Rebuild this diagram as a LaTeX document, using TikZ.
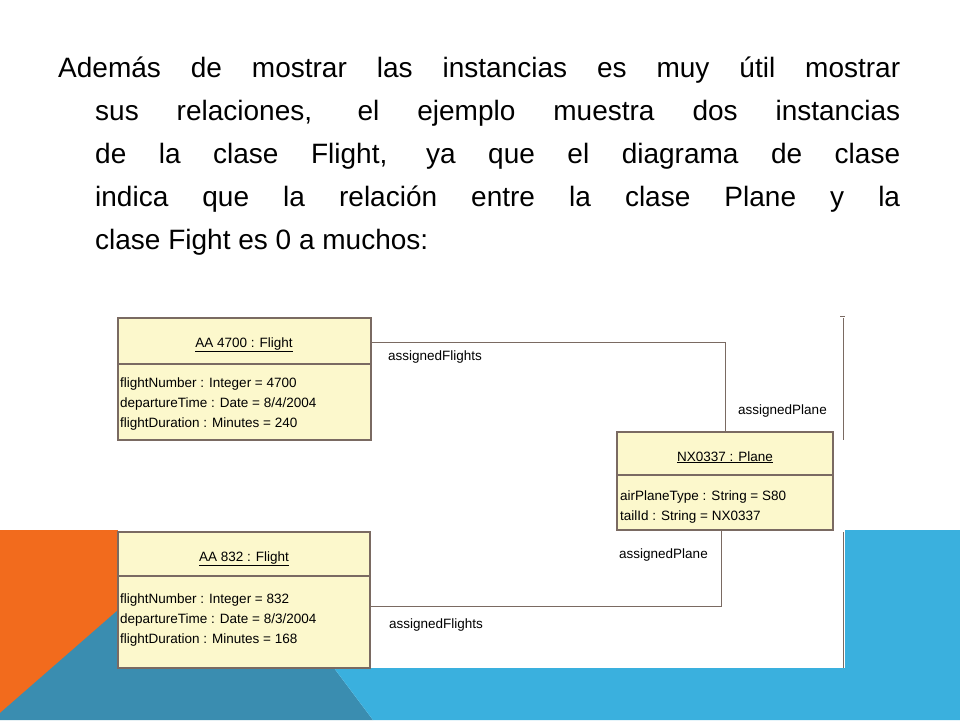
\documentclass[tikz,border=0pt]{standalone}
\usepackage{fontspec}
\setmainfont{Liberation Sans}
\newfontfamily\diagfont{Liberation Sans}
\definecolor{orng}{HTML}{F26B1D}
\definecolor{teal1}{HTML}{3A8DB0}
\definecolor{lblue}{HTML}{3AB0DE}
\definecolor{boxfill}{HTML}{FCF8CC}
\definecolor{boxline}{HTML}{7A6A62}
\begin{document}
\begin{tikzpicture}[x=1pt,y=-1pt,
  tline/.style={anchor=base west,inner sep=0pt,font=\fontsize{28}{30}\selectfont},
  dtext/.style={anchor=base west,inner sep=0pt,font=\diagfont\fontsize{13.5}{15}\selectfont},
  box/.style={draw=boxline,fill=boxfill,line width=1.2pt},
  conn/.style={draw=boxline,line width=1pt}]
\useasboundingbox (0,0) rectangle (960,720);
\fill[white] (0,0) rectangle (960,720);
% background shapes
\fill[orng] (0,530) -- (118,530) -- (118,720) -- (0,720) -- cycle;
\fill[teal1] (0,713) -- (118,610) -- (118,668) -- (334,668) -- (373,720) -- (0,720) -- cycle;
\fill[lblue] (845,530) -- (960,530) -- (960,720) -- (373,720) -- (334,668) -- (845,668) -- cycle;
% title
\node[tline] (t1) at (58,77) {\makebox[842pt][s]{Además de mostrar las instancias es muy útil mostrar}};
\node[tline] (t2) at (95,120) {\makebox[805pt][s]{sus relaciones, el ejemplo muestra dos instancias}};
\node[tline] (t3) at (95,163) {\makebox[805pt][s]{de la clase Flight, ya que el diagrama de clase}};
\node[tline] (t4) at (95,206) {\makebox[805pt][s]{indica que la relación entre la clase Plane y la}};
\node[tline] (t5) at (95,249) {clase Fight es 0 a muchos:};
% diagram area
\fill[white] (118,313) rectangle (845,668);
\draw[boxline,line width=1pt] (843,318) -- (843,440) (843,532) -- (843,668);
\draw[boxline,line width=1pt] (840,316) -- (845,316);
% connectors
\coordinate (c1) at (725,342);
\coordinate (c2) at (721,606);
\draw[conn] (371,342) -- (c1) -- (725,432);
\draw[conn] (370,606) -- (c2) -- (721,530);
% boxes
\path[box] (118,318) rectangle (371,440);
\draw[boxline,line width=1.2pt] (118,364) -- (371,364);
\path[box] (118,532) rectangle (370,668);
\draw[boxline,line width=1.2pt] (118,576) -- (370,576);
\path[box] (617,432) rectangle (833,530);
\draw[boxline,line width=1.2pt] (617,475) -- (833,475);
% texts
\node[dtext,anchor=base] (h1) at (244,347) {\underline{AA 4700 : Flight}};
\node[dtext] (a1) at (120,387) {flightNumber : Integer = 4700};
\node[dtext] (a2) at (120,407) {departureTime : Date = 8/4/2004};
\node[dtext] (a3) at (120,427) {flightDuration : Minutes = 240};
\node[dtext,anchor=base] (h2) at (244,561) {\underline{AA 832 : Flight}};
\node[dtext] (b1) at (120,603) {flightNumber : Integer = 832};
\node[dtext] (b2) at (120,623) {departureTime : Date = 8/3/2004};
\node[dtext] (b3) at (120,643) {flightDuration : Minutes = 168};
\node[dtext,anchor=base] (h3) at (725,461) {\underline{NX0337 : Plane}};
\node[dtext] (p1) at (620,500) {airPlaneType : String = S80};
\node[dtext] (p2) at (620,520) {tailId : String = NX0337};
\node[dtext] (l1) at (388,360) {assignedFlights};
\node[dtext] (l2) at (738,414) {assignedPlane};
\node[dtext] (l3) at (619,558) {assignedPlane};
\node[dtext] (l4) at (389,628) {assignedFlights};
\end{tikzpicture}
\end{document}
